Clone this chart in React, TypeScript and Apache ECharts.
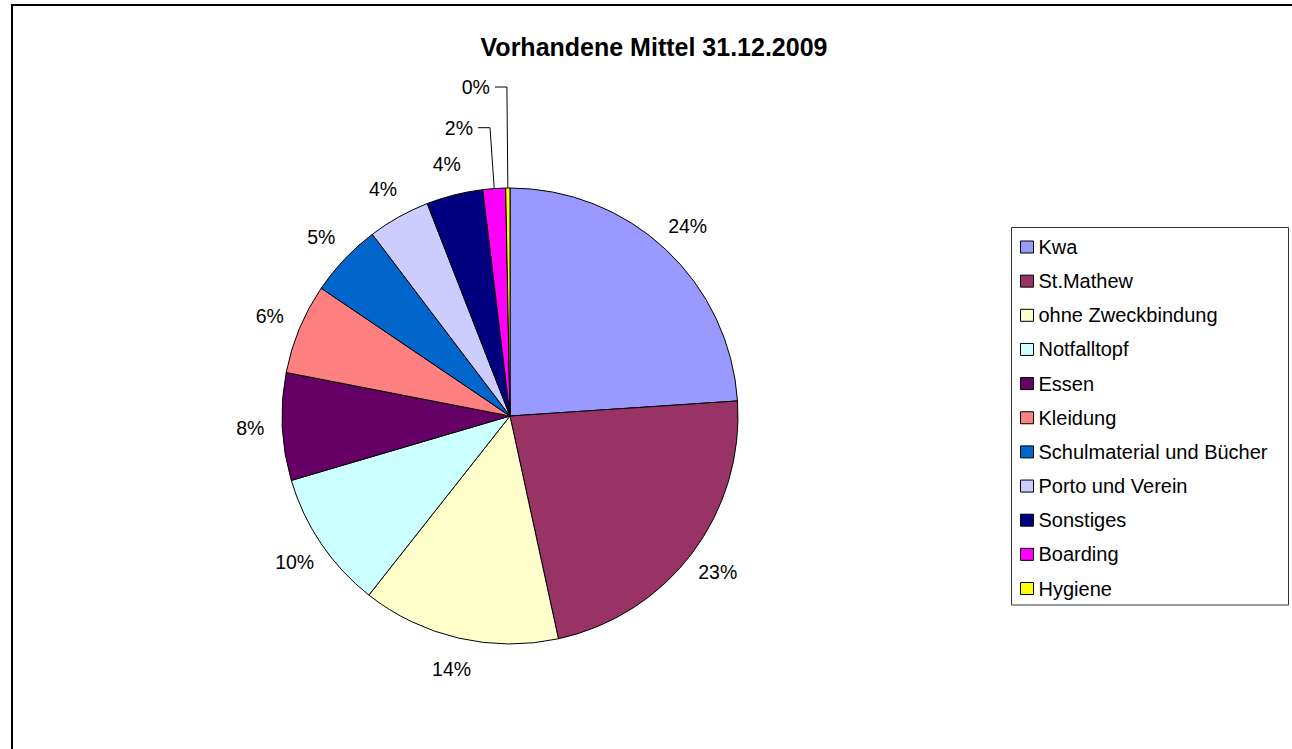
import React, { useEffect, useRef } from "react";
import * as echarts from "echarts";

const titleText = "Vorhandene Mittel 31.12.2009";
const categories = [
  "Kwa",
  "St.Mathew",
  "ohne Zweckbindung",
  "Notfalltopf",
  "Essen",
  "Kleidung",
  "Schulmaterial und Bücher",
  "Porto und Verein",
  "Sonstiges",
  "Boarding",
  "Hygiene",
];
const values = [23.9, 22.6, 14.0, 9.8, 7.6, 6.4, 5.2, 4.4, 4.0, 1.6, 0.3];
const colors = [
  "#9999FF",
  "#993366",
  "#FFFFCC",
  "#CCFFFF",
  "#660066",
  "#FF8080",
  "#0066CC",
  "#CCCCFF",
  "#000080",
  "#FF00FF",
  "#FFFF00",
];

const FONT = "'Liberation Sans', Arial, sans-serif";
const CX = 510;
const CY = 416;
const R = 228;
const LABEL_R = 260;

export default function App() {
  const ref = useRef<HTMLDivElement>(null);

  useEffect(() => {
    if (!ref.current) return;
    const chart = echarts.init(ref.current, undefined, { renderer: "svg" });
    const total = values.reduce((a, b) => a + b, 0);
    const mids: number[] = [];
    let acc = 0;
    values.forEach((v) => {
      const a0 = (acc / total) * 360;
      acc += v;
      const a1 = (acc / total) * 360;
      mids.push(((a0 + a1) / 2) * (Math.PI / 180));
    });

    const data = categories.map((name, i) => {
      const item: any = {
        name,
        value: values[i],
        itemStyle: { color: colors[i] },
      };
      if (i >= categories.length - 2) {
        item.labelLine = {
          show: true,
          length: i === categories.length - 1 ? 101 : 61,
          length2: 12,
          lineStyle: { color: "#000", width: 1 },
        };
      }
      return item;
    });

    chart.setOption({
      animation: false,
      backgroundColor: "#fff",
      title: {
        text: titleText,
        left: 654,
        top: 34,
        textAlign: "center",
        padding: 0,
        textStyle: {
          fontSize: 25,
          fontWeight: "bold",
          color: "#000",
          fontFamily: FONT,
        },
      },
      legend: {
        orient: "vertical",
        left: 1020,
        top: 237,
        padding: 0,
        itemWidth: 13,
        itemHeight: 12,
        itemGap: 14.15,
        icon: "rect",
        selectedMode: false,
        itemStyle: { borderColor: "#000", borderWidth: 1 },
        textStyle: {
          fontSize: 20,
          lineHeight: 20,
          color: "#000",
          fontFamily: FONT,
        },
        data: categories,
      },
      graphic: [
        {
          type: "rect",
          shape: { x: 12, y: 5, width: 1400, height: 1000 },
          style: { fill: "none", stroke: "#000", lineWidth: 2 },
          silent: true,
        },
        {
          type: "rect",
          shape: { x: 1011.5, y: 227.5, width: 277, height: 377.5 },
          style: { fill: "none", stroke: "#333", lineWidth: 1 },
          silent: true,
        },
      ],
      series: [
        {
          type: "pie",
          center: [CX, CY],
          radius: R,
          startAngle: 90,
          clockwise: true,
          avoidLabelOverlap: false,
          emphasis: { disabled: true },
          itemStyle: { borderColor: "#000", borderWidth: 1 },
          label: {
            show: true,
            position: "outside",
            formatter: (p: any) => Math.round(p.percent) + "%",
            fontSize: 19.5,
            color: "#000",
            fontFamily: FONT,
          },
          labelLine: { show: false, length: 15, length2: 10 },
          labelLayout: (params: any) => {
            const i = params.dataIndex;
            if (i >= categories.length - 2) return undefined;
            const a = mids[i];
            return {
              x: CX + LABEL_R * Math.sin(a),
              y: CY - LABEL_R * Math.cos(a),
              align: "center",
              verticalAlign: "middle",
            };
          },
          data,
        },
      ],
    });
    return () => chart.dispose();
  }, []);

  return (
    <div
      ref={ref}
      style={{ position: "absolute", left: 0, top: 0, width: 1292, height: 749 }}
    />
  );
}
